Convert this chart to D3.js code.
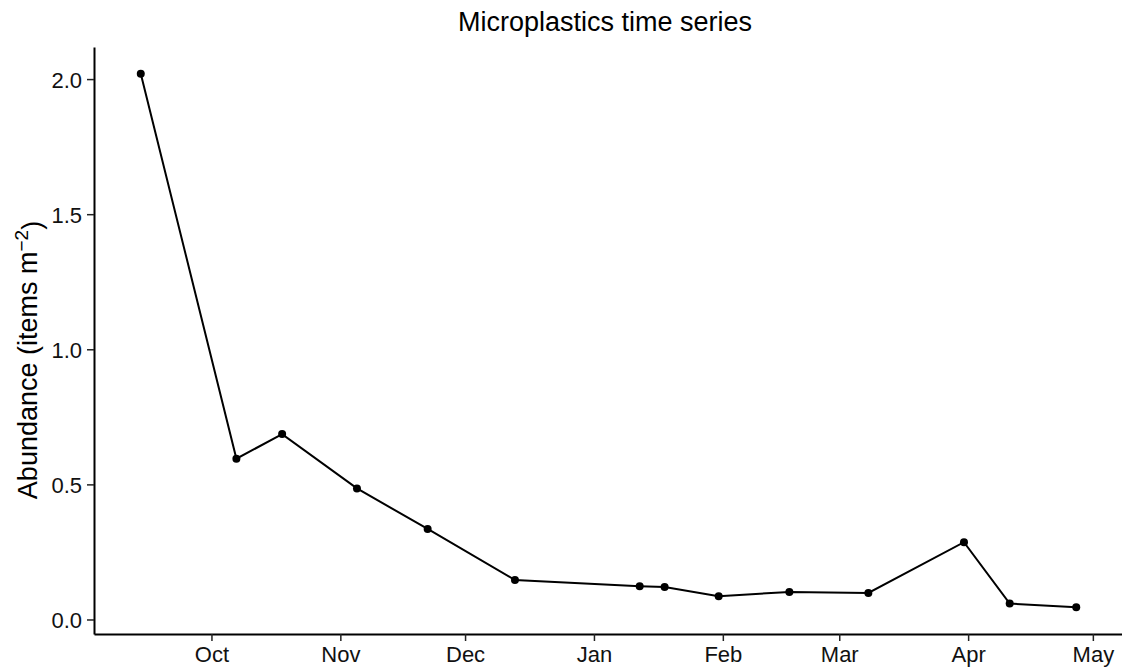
<!DOCTYPE html>
<html>
<head>
<meta charset="utf-8">
<script src="https://cdn.jsdelivr.net/npm/d3@7"></script>
<style>
  body { margin: 0; background: #fff; }
  svg { display: block; font-family: "Liberation Sans", Arial, sans-serif; }
</style>
</head>
<body>
<svg id="chart"></svg>
<script>
// Sampling dates and microplastic abundance (items m^-2)
const sampleDates = ["2018-09-14", "2018-10-07", "2018-10-18", "2018-11-05", "2018-11-22",
  "2018-12-13", "2019-01-12", "2019-01-18", "2019-01-31", "2019-02-17", "2019-03-08",
  "2019-03-31", "2019-04-11", "2019-04-27"];
const abundance = [2.02, 0.595, 0.686, 0.485, 0.335, 0.146, 0.123, 0.12, 0.086,
  0.102, 0.098, 0.286, 0.059, 0.045];
const monthTicks = ["2018-10-01", "2018-11-01", "2018-12-01", "2019-01-01",
  "2019-02-01", "2019-03-01", "2019-04-01", "2019-05-01"];
const yTicks = [0, 0.5, 1, 1.5, 2];

const width = 1122;
const height = 669;
const margin = { top: 47, right: -1, bottom: 35, left: 94 };

const parse = d3.utcParse("%Y-%m-%d");
const data = sampleDates.map((d, i) => ({ date: parse(d), value: abundance[i] }));

const svg = d3.select("#chart")
    .attr("width", width)
    .attr("height", height);

// Escalas (ggplot style 5% expansion)
const xExt = d3.extent(data, d => d.date);
const xPad = (xExt[1] - xExt[0]) * 0.05;
const xScale = d3.scaleUtc()
    .domain([new Date(+xExt[0] - xPad), new Date(+xExt[1] + xPad)])
    .range([margin.left, width - margin.right]);

const yExt = d3.extent(data, d => d.value);
const yPad = (yExt[1] - yExt[0]) * 0.05;
const yScale = d3.scaleLinear()
    .domain([yExt[0] - yPad, yExt[1] + yPad])
    .range([height - margin.bottom, margin.top]);

// Ejes
const xAxis = d3.axisBottom(xScale)
    .tickValues(monthTicks.map(parse))
    .tickFormat(d3.utcFormat("%b"))
    .tickSize(7)
    .tickSizeOuter(0)
    .tickPadding(5);

const yAxis = d3.axisLeft(yScale)
    .tickValues(yTicks)
    .tickFormat(d3.format(".1f"))
    .tickSize(7)
    .tickSizeOuter(0)
    .tickPadding(5);

const gx = svg.append("g")
    .attr("transform", `translate(0, ${height - margin.bottom})`)
    .call(xAxis);

const gy = svg.append("g")
    .attr("transform", `translate(${margin.left}, 0)`)
    .call(yAxis);

[gx, gy].forEach(g => {
    g.select(".domain").attr("stroke", "#000").attr("stroke-width", 2);
    g.selectAll(".tick line").attr("stroke", "#222").attr("stroke-width", 1.5);
    g.selectAll(".tick text")
        .attr("fill", "#111")
        .style("font-size", "22px")
        .style("font-family", "'Liberation Sans', Arial, sans-serif");
});
gx.selectAll(".tick text").attr("dy", "0.72em");
gy.selectAll(".tick text").attr("dy", "0.36em");

// Linea y puntos
const line = d3.line()
    .x(d => xScale(d.date))
    .y(d => yScale(d.value));

svg.append("path")
    .datum(data)
    .attr("fill", "none")
    .attr("stroke", "#000")
    .attr("stroke-width", 2)
    .attr("d", line);

svg.selectAll(".dot")
    .data(data)
    .enter()
    .append("circle")
    .attr("class", "dot")
    .attr("cx", d => xScale(d.date))
    .attr("cy", d => yScale(d.value))
    .attr("r", 4)
    .attr("fill", "#000");

// Titulos
svg.append("text")
    .attr("x", 605)
    .attr("y", 31)
    .attr("text-anchor", "middle")
    .style("font-size", "27px")
    .attr("fill", "#000")
    .text("Microplastics time series");

const yTitle = svg.append("text")
    .attr("transform", "translate(37, 360) rotate(-90)")
    .attr("text-anchor", "middle")
    .style("font-size", "27px")
    .attr("fill", "#000");
yTitle.append("tspan").text("Abundance (items m");
yTitle.append("tspan").attr("dy", "-0.45em").style("font-size", "19px").text("\u22122");
yTitle.append("tspan").attr("dy", "0.45em").text(")");
</script>
</body>
</html>
